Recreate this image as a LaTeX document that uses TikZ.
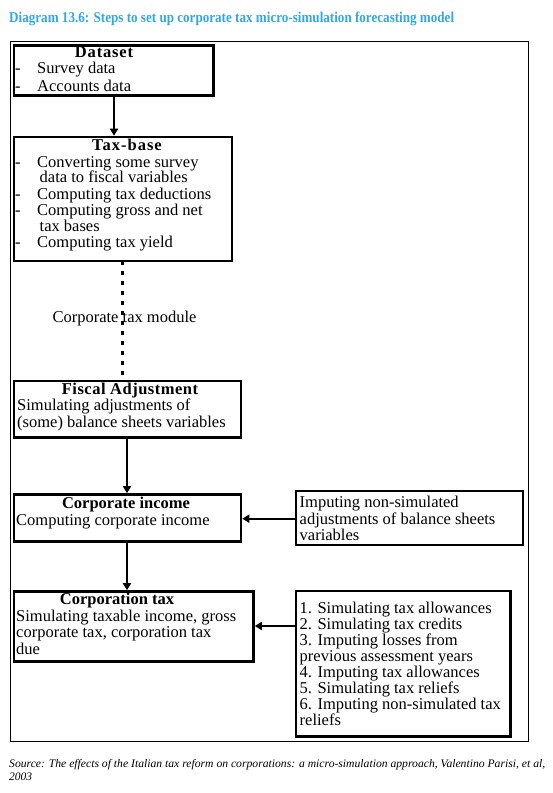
\documentclass[tikz,border=0pt]{standalone}
\usepackage{fontspec}
\setmainfont{Liberation Serif}
\usepackage{graphicx}
\usetikzlibrary{arrows.meta}
\definecolor{titleblue}{RGB}{51,168,222}
\begin{document}
\begin{tikzpicture}[x=1pt,y=-1pt,
  box/.style={draw, line width=2.8pt, inner sep=0pt, outer sep=0pt, anchor=north west},
  txt/.style={anchor=base west, inner sep=0pt, font=\fontsize{16.5}{16.5}\selectfont},
  ttl/.style={anchor=base, inner sep=0pt, font=\fontsize{16.5}{16.5}\selectfont\bfseries},
  arr/.style={line width=2pt, -{Triangle[length=7pt,width=8pt]}, shorten >=1.3pt},
  dotline/.style={line width=3pt, dash pattern=on 4pt off 6pt}]
\useasboundingbox (0,0) rectangle (553,793);
\fill[white] (0,0) rectangle (553,793);
% title
\node[anchor=base west, inner sep=0pt, text=titleblue, font=\fontsize{15}{15}\selectfont\bfseries] (title) at (9,22)
  {\resizebox{445pt}{\height}{Diagram 13.6: Steps to set up corporate tax micro-simulation forecasting model}};
% frame
\node[draw, line width=1pt, inner sep=0pt, outer sep=0pt, anchor=north west, minimum width=518pt, minimum height=700pt] (frame) at (10.5,41.5) {};
% boxes
\node[box, minimum width=199.5pt, minimum height=50pt] (ds) at (14,45.5) {};
\node[box, minimum width=218pt, minimum height=124pt] (tb) at (14,137) {};
\node[box, minimum width=227pt, minimum height=56.5pt] (fa) at (14,381) {};
\node[box, minimum width=227pt, minimum height=47pt] (ci) at (14,494.5) {};
\node[box, minimum width=227pt, minimum height=54pt] (ib) at (296,491) {};
\node[box, minimum width=239.5pt, minimum height=70pt] (ct) at (14,591.5) {};
\node[box, minimum width=214.5pt, minimum height=145.5pt] (ta) at (296,591) {};
% Dataset text
\node[ttl] (dsT) at (104,57.5) {\addfontfeature{LetterSpace=5}Dataset};
\node[txt] (ds1a) at (15,73.5) {-};
\node[txt] (ds1) at (37,73.5) {Survey data};
\node[txt] (ds2a) at (15,91) {-};
\node[txt] (ds2) at (37,91) {Accounts data};
% Tax-base text
\node[ttl] (tbT) at (127,150) {\addfontfeature{LetterSpace=6}Tax-base};
\node[txt] (tb1a) at (15,167.3) {-};
\node[txt] (tb1) at (37,167.3) {Converting some survey};
\node[txt] (tb1b) at (39.5,182.7) {data to fiscal variables};
\node[txt] (tb2a) at (15,199.3) {-};
\node[txt] (tb2) at (37,199.3) {Computing tax deductions};
\node[txt] (tb3a) at (15,215) {-};
\node[txt] (tb3) at (37,215) {Computing gross and net};
\node[txt] (tb3b) at (39.5,231) {tax bases};
\node[txt] (tb4a) at (15,247.3) {-};
\node[txt] (tb4) at (37,247.3) {Computing tax yield};
% module label
\node[anchor=base, inner sep=0pt, font=\fontsize{16.5}{16.5}\selectfont] (mod) at (124.5,322) {Corporate tax module};
% Fiscal adjustment
\node[ttl] (faT) at (130,394) {\addfontfeature{LetterSpace=3}Fiscal Adjustment};
\node[txt] (fa1) at (17,410.7) {Simulating adjustments of};
\node[txt] (fa2) at (17,427.3) {(some) balance sheets variables};
% Corporate income
\node[ttl] (ciT) at (126,508.3) {Corporate income};
\node[txt] (ci1) at (16,525.7) {Computing corporate income};
% imputing box
\node[txt] (ib1) at (299.5,507.3) {Imputing non-simulated};
\node[txt] (ib2) at (299.5,524.3) {adjustments of balance sheets};
\node[txt] (ib3) at (299.5,540) {variables};
% Corporation tax
\node[ttl] (ctT) at (117,604) {Corporation tax};
\node[txt] (ct1) at (16,621) {Simulating taxable income, gross};
\node[txt] (ct2) at (16,637.7) {corporate tax, corporation tax};
\node[txt] (ct3) at (16,654) {due};
% list box
\node[txt] (ta1) at (299.5,613.3) {1. Simulating tax allowances};
\node[txt] (ta2) at (299.5,629.3) {2. Simulating tax credits};
\node[txt] (ta3) at (299.5,645.3) {3. Imputing losses from};
\node[txt] (ta4) at (299.5,661.3) {previous assessment years};
\node[txt] (ta5) at (299.5,677.3) {4. Imputing tax allowances};
\node[txt] (ta6) at (299.5,693.3) {5. Simulating tax reliefs};
\node[txt] (ta7) at (299.5,709.3) {6. Imputing non-simulated tax};
\node[txt] (ta8) at (299.5,725.3) {reliefs};
% connectors
\coordinate (x1) at (114,0);
\coordinate (x2) at (122,0);
\coordinate (x3) at (127,0);
\coordinate (y1) at (0,518.7);
\coordinate (y2) at (0,626);
\draw[arr] (ds.south -| x1) -- (tb.north -| x1);
\draw[dotline] (tb.south -| x2) -- (fa.north -| x2);
\draw[arr] (fa.south -| x3) -- (ci.north -| x3);
\draw[arr] (ci.south -| x3) -- (ct.north -| x3);
\draw[arr] (ib.west |- y1) -- (ci.east |- y1);
\draw[arr] (ta.west |- y2) -- (ct.east |- y2);
% source
\node[anchor=base west, inner sep=0pt, font=\fontsize{11.5}{11.5}\selectfont\itshape] (src1) at (9,767)
  {\resizebox{536pt}{\height}{Source: The effects of the Italian tax reform on corporations: a micro-simulation approach, Valentino Parisi, et al,}};
\node[anchor=base west, inner sep=0pt, font=\fontsize{11.5}{11.5}\selectfont\itshape] (src2) at (9,780) {2003};
\end{tikzpicture}
\end{document}
